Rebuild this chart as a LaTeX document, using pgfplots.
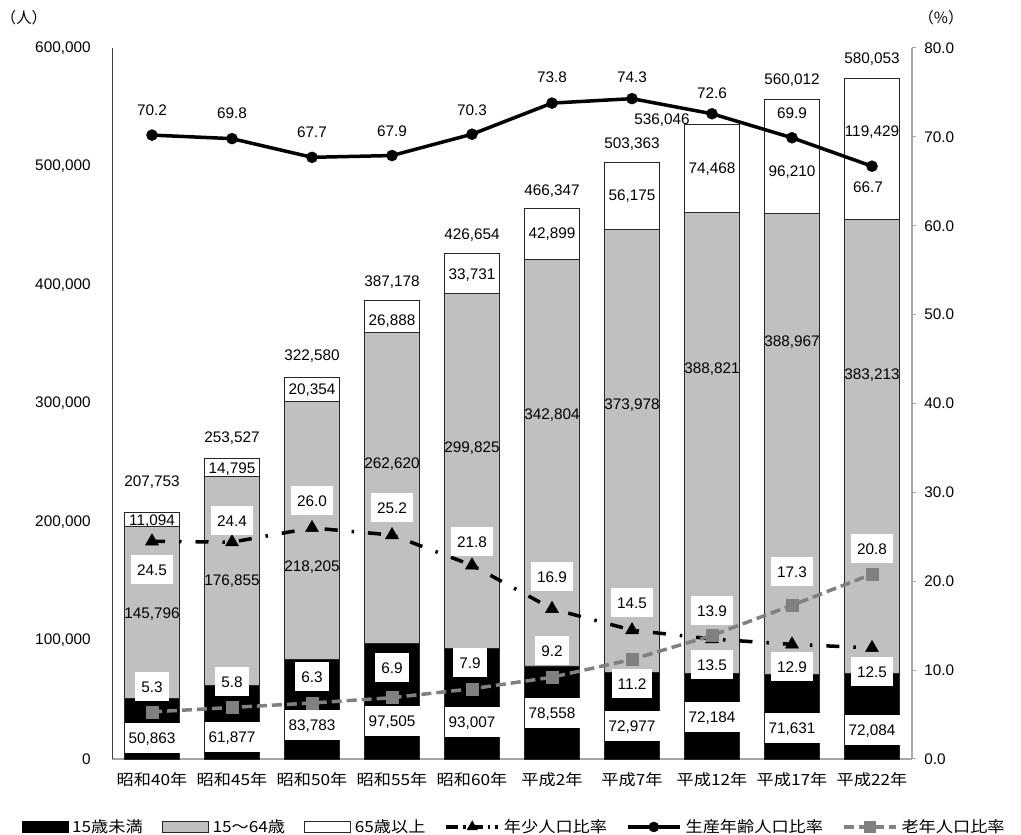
\documentclass[border=0pt]{standalone}
\usepackage{pgfplots}
\pgfplotsset{compat=1.18}
\usepackage{fontspec}
\setmainfont{Liberation Sans}
\newfontfamily\jp[FakeStretch=1.12]{Noto Sans CJK JP}
\newfontfamily\jpn{Noto Sans CJK JP}
\definecolor{barGray}{HTML}{C0C0C0}
\definecolor{lineGray}{HTML}{808080}
\definecolor{axGray}{HTML}{A6A6A6}

\pgfplotsset{
  lbl/.style={draw=none, mark=none, forget plot, nodes near coords, point meta=explicit symbolic,
    nodes near coords align={anchor=center},
    every node near coord/.append style={text=black, inner xsep=1bp, inner ysep=0bp, text height=11bp, text depth=0bp}},
  boxlbl/.style={lbl, every node near coord/.append style={fill=white, inner xsep=6bp, inner ysep=9bp}},
  barlbl/.style={lbl, every node near coord/.append style={fill=white, minimum width=55bp, inner xsep=0bp, inner ysep=9.5bp}},
  barlegend/.style={legend image code/.code={\draw[##1] (0bp,-5.5bp) rectangle (46bp,5.5bp);}},
  linelegend/.style={legend image code/.code={\draw[##1, mark repeat=2, mark phase=2] plot coordinates {(0bp,0bp) (26bp,0bp) (52bp,0bp)};}},
  geom/.style={at={(112bp,76bp)}, anchor=south west, scale only axis, width=800bp, height=711bp, xmin=-0.5, xmax=9.5},
}

\begin{document}
\fontsize{15.4pt}{18pt}\selectfont
\begin{tikzpicture}
\useasboundingbox (0,0) rectangle (1021bp,835bp);

% ---------- bars (left axis) ----------
\begin{axis}[geom,
  ybar stacked, bar width=0.6875,
  ymin=0, ymax=600000,
  xtick={0,1,2,3,4,5,6,7,8,9},
  xticklabels={昭和40年,昭和45年,昭和50年,昭和55年,昭和60年,平成2年,平成7年,平成12年,平成17年,平成22年},
  ytick={0,100000,200000,300000,400000,500000,600000},
  scaled y ticks=false,
  yticklabel style={xshift=-16bp, /pgf/number format/fixed, /pgf/number format/1000 sep={,}, /pgf/number format/assume math mode=true},
  axis x line*=bottom, axis y line*=left,
  x axis line style={-, draw=axGray, line width=1.2bp},
  y axis line style={-, draw=black!75, line width=1bp},
  major tick length=0pt,
  xticklabel style={font=\jp, yshift=-8bp},
]
\addplot[fill=black, draw=black!85, line width=0.8bp] coordinates {(0,50863) (1,61877) (2,83783) (3,97505) (4,93007) (5,78558) (6,72977) (7,72184) (8,71631) (9,72084)};
\addplot[fill=barGray, draw=black!85, line width=0.8bp] coordinates {(0,145796) (1,176855) (2,218205) (3,262620) (4,299825) (5,342804) (6,373978) (7,388821) (8,388967) (9,383213)};
\addplot[fill=white, draw=black!85, line width=0.8bp] coordinates {(0,11094) (1,14795) (2,20354) (3,26888) (4,33731) (5,42899) (6,56175) (7,74468) (8,96210) (9,119429)};
\end{axis}

% ---------- ratios (right axis) ----------
\begin{axis}[geom,
  ymin=0, ymax=80,
  axis y line*=right, axis x line=none,
  ytick={0,10,20,30,40,50,60,70,80},
  yticklabel style={xshift=3bp, /pgf/number format/fixed, /pgf/number format/fixed zerofill, /pgf/number format/precision=1, /pgf/number format/assume math mode=true},
  y axis line style={-, draw=axGray, line width=1.2bp},
  ytick style={draw=axGray, line width=1bp},
  tick align=outside, major tick length=4bp,
  clip=false,
]
\addplot[black, line width=3.5bp, dash pattern=on 13bp off 14bp on 2.5bp off 14bp, mark=triangle*, mark size=7.5bp, mark options={solid, line width=0.5bp}] coordinates {(0,24.5) (1,24.4) (2,26.0) (3,25.2) (4,21.8) (5,16.9) (6,14.5) (7,13.5) (8,12.9) (9,12.5)};
\addplot[black, line width=3.5bp, mark=*, mark size=5.5bp, mark options={solid, line width=0.5bp}] coordinates {(0,70.2) (1,69.8) (2,67.7) (3,67.9) (4,70.3) (5,73.8) (6,74.3) (7,72.6) (8,69.9) (9,66.7)};
\addplot[lineGray, line width=3.5bp, dash pattern=on 10bp off 5bp, mark=square*, mark size=6bp, mark options={solid, line width=0.5bp}] coordinates {(0,5.3) (1,5.8) (2,6.3) (3,6.9) (4,7.9) (5,9.2) (6,11.2) (7,13.9) (8,17.3) (9,20.8)};
\end{axis}

% ---------- data labels and legend (pixel-scaled overlay axis) ----------
\begin{axis}[geom,
  ymin=0, ymax=711, hide axis, clip=false,
  legend columns=6,
  legend style={at={(0.504,-0.0956)}, anchor=center, draw=none, fill=none, font=\jp,
    /tikz/every even column/.append style={column sep=15bp},
    nodes={inner xsep=4bp}},
  legend cell align=left,
]
\addlegendimage{barlegend, fill=black, draw=black}
\addlegendimage{barlegend, fill=barGray, draw=black!85, line width=0.8bp}
\addlegendimage{barlegend, fill=white, draw=black!85, line width=0.8bp}
\addlegendimage{linelegend, black, line width=3.5bp, dash pattern=on 12bp off 5bp on 2.5bp off 5bp, mark=triangle*, mark size=6bp, mark options={solid, line width=0.5bp}}
\addlegendimage{linelegend, black, line width=3.5bp, mark=*, mark size=5bp, mark options={solid, line width=0.5bp}}
\addlegendimage{linelegend, lineGray, line width=3.5bp, dash pattern=on 10bp off 5bp, mark=square*, mark size=5.5bp, mark options={solid, line width=0.5bp}}
\legend{15歳未満,15～64歳,65歳以上,年少人口比率,生産年齢人口比率,老年人口比率}

% totals
\addplot[lbl] coordinates {(0,278) [207{,}753] (1,322) [253{,}527] (2,404) [322{,}580] (3,478) [387{,}178] (4,525) [426{,}654] (5,569) [466{,}347] (6,616) [503{,}363] (6.375,640) [536{,}046] (8,680) [560{,}012] (9,701) [580{,}053]};
% 65+
\addplot[lbl] coordinates {(0,239) [11{,}094] (1,291) [14{,}795] (2,370) [20{,}354] (3,439) [26{,}888] (4,485) [33{,}731] (5,526) [42{,}899] (6,564) [56{,}175] (7,591) [74{,}468] (8,588) [96{,}210] (9,628) [119{,}429]};
% 15-64
\addplot[lbl] coordinates {(0,146) [145{,}796] (1,179) [176{,}855] (2,193) [218{,}205] (3,296) [262{,}620] (4,312) [299{,}825] (5,345) [342{,}804] (6,355) [373{,}978] (7,391) [388{,}821] (8,418) [388{,}967] (9,385) [383{,}213]};
% under 15
\addplot[barlbl] coordinates {(0,21) [50{,}863] (1,22) [61{,}877] (2,34) [83{,}783] (3,38) [97{,}505] (4,37) [93{,}007] (5,46) [78{,}558] (6,33) [72{,}977] (7,42) [72{,}184] (8,31) [71{,}631] (9,29) [72{,}084]};
% young ratio
\addplot[boxlbl] coordinates {(0,189) [24.5] (1,238) [24.4] (2,258) [26.0] (3,251) [25.2] (4,217) [21.8] (5,182) [16.9] (6,156) [14.5] (7,94) [13.5] (8,92) [12.9] (9,87) [12.5]};
% old ratio
\addplot[boxlbl] coordinates {(0,72) [5.3] (1,77) [5.8] (2,82) [6.3] (3,91) [6.9] (3.975,96) [7.9] (5,108) [9.2] (6,75) [11.2] (7,148) [13.9] (8,187) [17.3] (9,210) [20.8]};
% working-age ratio
\addplot[lbl] coordinates {(0,649) [70.2] (1,646) [69.8] (2,627) [67.7] (3,628) [67.9] (4,649) [70.3] (5,682) [73.8] (6,682) [74.3] (7,666) [72.6] (8,646) [69.9] (8.95,572) [66.7]};
% axis unit labels
\addplot[lbl, every node near coord/.append style={font=\jpn, inner xsep=0bp}] coordinates {(-1.6,741) [（人）] (9.8625,741) [（\%）]};
\end{axis}
\end{tikzpicture}
\end{document}
